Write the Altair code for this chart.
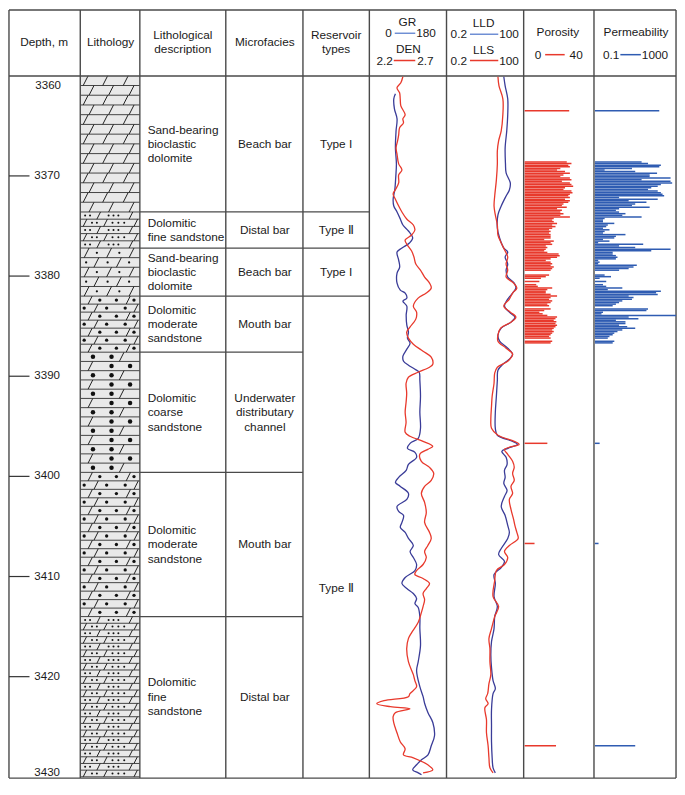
import altair as alt
import pandas as pd

# ---------------- data ----------------
depth_ticks = [3370, 3380, 3390, 3400, 3410, 3420]
depth_ends = [3360, 3430]

layer_top = [3360.0, 3373.6, 3377.2, 3382.0, 3387.6, 3399.6, 3414.0]
layer_base = [3373.6, 3377.2, 3382.0, 3387.6, 3399.6, 3414.0, 3430.0]
lith_kind = ["dolomite", "fine", "sandy_dolomite", "moderate", "coarse", "moderate", "fine"]
lith_desc = ["Sand-bearing\nbioclastic\ndolomite", "Dolomitic\nfine sandstone",
             "Sand-bearing\nbioclastic\ndolomite", "Dolomitic\nmoderate\nsandstone",
             "Dolomitic\ncoarse\nsandstone", "Dolomitic\nmoderate\nsandstone",
             "Dolomitic\nfine\nsandstone"]
microfacies = ["Beach bar", "Distal bar", "Beach bar", "Mouth bar",
               "Underwater\ndistributary\nchannel", "Mouth bar", "Distal bar"]
res_top = [3360.0, 3373.6, 3377.2, 3382.0]
res_base = [3373.6, 3377.2, 3382.0, 3430.0]
res_type = ["Type I", "Type Ⅱ", "Type I", "Type Ⅱ"]
res_label_depth = [3366.8, 3375.4, 3379.6, 3411.1]

gr_depth = [3361.8, 3362.3, 3363.3, 3364.3, 3365.5, 3367.2, 3368.8, 3370.1, 3371.4, 3372.3, 3373.0,
            3373.6, 3374.3, 3374.9, 3375.5, 3376.2, 3376.7, 3377.2, 3377.6, 3378.4, 3379.1, 3379.7,
            3380.7, 3381.4, 3381.7, 3382.2, 3382.5, 3383.0, 3383.9, 3384.9, 3385.6, 3386.2, 3386.7,
            3387.3, 3388.0, 3388.5, 3388.9, 3389.3, 3389.6, 3390.4, 3392.0, 3393.6, 3395.2, 3396.2,
            3396.7, 3397.2, 3397.6, 3398.1, 3398.8, 3399.4, 3400.1, 3400.6, 3401.0, 3401.7, 3402.3,
            3403.0, 3403.5, 3403.9, 3404.6, 3405.1, 3405.6, 3406.2, 3406.9, 3407.5, 3408.1, 3408.8,
            3409.4, 3410.1, 3410.7, 3411.2, 3411.7, 3412.2, 3412.7, 3413.1, 3414.0, 3415.2, 3416.9,
            3418.5, 3419.4, 3421.0, 3422.0, 3422.7, 3423.6, 3424.6, 3425.9, 3426.9, 3427.8, 3428.3,
            3428.8, 3429.3, 3429.6, 3429.8]
gr_value = [60.8, 57.0, 58.5, 64.6, 62.3, 60.8, 63.1, 61.6, 59.3, 55.5, 57.0,
            64.6, 72.2, 78.3, 91.2, 101.1, 93.5, 76.0, 64.6, 68.4, 70.7, 64.6,
            64.6, 72.2, 83.6, 87.4, 78.3, 87.4, 85.9, 87.4, 91.2, 88.9, 95.0,
            87.4, 78.3, 79.8, 91.2, 106.4, 116.3, 117.8, 119.3, 117.8, 119.3, 114.0,
            95.0, 88.9, 106.4, 110.2, 91.2, 85.9, 68.4, 60.8, 72.2, 91.2, 87.4,
            64.6, 68.4, 79.8, 76.0, 72.2, 83.6, 91.2, 102.6, 95.0, 102.6, 110.2,
            106.4, 83.6, 76.0, 87.4, 102.6, 110.2, 106.4, 114.0, 117.8, 117.8, 119.3,
            114.0, 110.2, 117.8, 125.4, 129.2, 136.8, 148.2, 152.0, 144.4, 136.8, 121.6,
            110.2, 101.1, 114.0, 121.6]

den_depth = [3360.1, 3360.7, 3361.2, 3361.7, 3362.3, 3363.0, 3363.9, 3364.3, 3364.7, 3365.2, 3365.9,
             3366.5, 3367.2, 3367.8, 3368.8, 3369.4, 3369.9, 3370.7, 3371.4, 3371.8, 3372.3, 3373.0,
             3373.6, 3374.3, 3374.9, 3375.4, 3375.9, 3376.4, 3376.8, 3377.5, 3378.1, 3378.8, 3379.4,
             3380.1, 3380.7, 3381.2, 3381.7, 3382.2, 3383.0, 3383.6, 3384.3, 3385.1, 3385.6, 3386.2,
             3386.8, 3387.5, 3388.1, 3388.8, 3389.1, 3389.6, 3390.1, 3390.7, 3391.7, 3392.6, 3393.6,
             3394.6, 3395.6, 3396.0, 3396.5, 3397.0, 3397.3, 3397.8, 3398.5, 3399.1, 3399.7, 3400.4,
             3401.0, 3401.7, 3402.6, 3403.6, 3404.6, 3405.6, 3406.2, 3406.9, 3407.5, 3408.1, 3408.8,
             3409.4, 3409.8, 3410.2, 3410.7, 3411.2, 3411.7, 3412.3, 3413.0, 3413.6, 3414.6, 3415.6,
             3416.2, 3417.2, 3418.5, 3419.8, 3420.4, 3421.0, 3421.7, 3422.0, 3422.4, 3422.7, 3423.0,
             3423.2, 3423.6, 3424.0, 3424.6, 3425.6, 3426.5, 3427.2, 3427.8, 3428.1, 3428.8, 3429.3,
             3429.6]
den_value = [2.417, 2.404, 2.379, 2.396, 2.400, 2.404, 2.432, 2.417, 2.421, 2.396, 2.390,
             2.383, 2.373, 2.379, 2.390, 2.411, 2.390, 2.390, 2.368, 2.354, 2.368, 2.390,
             2.411, 2.442, 2.485, 2.495, 2.474, 2.432, 2.442, 2.474, 2.489, 2.501, 2.531,
             2.558, 2.590, 2.601, 2.569, 2.516, 2.485, 2.506, 2.501, 2.463, 2.442, 2.453,
             2.485, 2.548, 2.601, 2.611, 2.590, 2.516, 2.453, 2.438, 2.442, 2.438, 2.432,
             2.438, 2.432, 2.463, 2.548, 2.611, 2.579, 2.527, 2.537, 2.590, 2.617, 2.601,
             2.558, 2.537, 2.558, 2.569, 2.558, 2.590, 2.601, 2.579, 2.558, 2.569, 2.548,
             2.506, 2.495, 2.548, 2.590, 2.569, 2.548, 2.558, 2.548, 2.537, 2.516, 2.474,
             2.453, 2.442, 2.453, 2.485, 2.495, 2.506, 2.463, 2.453, 2.295, 2.248, 2.337,
             2.463, 2.368, 2.354, 2.358, 2.379, 2.400, 2.432, 2.421, 2.485, 2.579, 2.611,
             2.548]

lld_depth = [3360.1, 3361.0, 3362.3, 3363.9, 3365.5, 3367.2, 3368.8, 3369.7, 3370.7, 3371.4, 3372.0,
             3373.0, 3373.9, 3375.2, 3376.2, 3377.2, 3377.6, 3378.1, 3378.8, 3379.4, 3380.1, 3380.7,
             3381.2, 3381.7, 3382.3, 3383.0, 3383.6, 3384.1, 3384.6, 3385.2, 3385.9, 3386.5, 3387.2,
             3387.8, 3388.3, 3388.8, 3389.4, 3390.4, 3392.0, 3393.6, 3395.2, 3395.9, 3396.5, 3396.8,
             3397.2, 3397.5, 3398.1, 3398.8, 3399.4, 3400.1, 3400.7, 3401.4, 3402.0, 3403.0, 3403.9,
             3404.9, 3405.6, 3406.2, 3407.2, 3407.8, 3408.5, 3409.1, 3409.8, 3410.7, 3412.0, 3413.0,
             3414.0, 3415.2, 3416.5, 3417.8, 3419.1, 3420.4, 3421.2, 3421.7, 3423.3, 3424.9, 3426.5,
             3428.1, 3429.1, 3429.6]
lld_value = [20.2, 22.5, 27.7, 27.7, 25.6, 22.5, 23.1, 24.3, 34.1, 31.6, 24.3,
             16.4, 12.6, 12.0, 14.4, 20.2, 27.7, 22.5, 27.7, 24.3, 27.7, 46.8,
             53.3, 41.0, 27.7, 21.3, 31.6, 49.3, 36.0, 16.4, 12.6, 14.4, 27.7,
             41.0, 31.6, 18.7, 12.6, 12.0, 11.1, 10.2, 10.2, 12.0, 41.0, 60.8,
             27.7, 17.2, 24.3, 26.3, 21.3, 22.5, 20.2, 26.3, 21.3, 16.4, 22.5,
             27.7, 31.6, 27.7, 16.4, 13.3, 21.3, 16.4, 9.2, 10.2, 9.2, 12.0,
             9.7, 9.2, 7.5, 7.1, 7.5, 8.5, 10.2, 8.5, 7.5, 7.5, 7.5,
             7.9, 8.5, 10.2]

lls_depth = [3360.1, 3361.0, 3362.3, 3363.9, 3365.5, 3366.5, 3367.5, 3368.8, 3370.4, 3372.0, 3373.0,
             3373.9, 3374.9, 3375.9, 3376.7, 3377.5, 3378.1, 3378.8, 3379.4, 3380.1, 3380.7, 3381.2,
             3381.7, 3382.3, 3383.0, 3383.6, 3384.1, 3384.6, 3385.2, 3385.9, 3386.5, 3387.2, 3387.8,
             3388.5, 3389.1, 3389.7, 3390.7, 3392.0, 3393.0, 3394.3, 3395.2, 3395.9, 3396.5, 3396.8,
             3397.3, 3397.8, 3398.5, 3399.1, 3399.7, 3400.4, 3401.0, 3401.7, 3402.3, 3403.3, 3404.3,
             3404.9, 3405.6, 3406.2, 3406.9, 3407.5, 3408.1, 3408.8, 3409.4, 3410.4, 3412.0, 3413.0,
             3414.0, 3415.2, 3416.2, 3417.2, 3418.5, 3419.8, 3420.7, 3421.7, 3422.2, 3422.7, 3423.1,
             3424.3, 3425.6, 3426.9, 3428.1, 3429.1, 3429.6]
lls_value = [12.6, 13.7, 18.7, 18.7, 16.4, 13.3, 12.0, 12.0, 11.1, 9.7, 9.2,
             10.2, 12.0, 12.6, 16.4, 22.5, 27.7, 24.3, 27.7, 24.3, 44.4, 57.7,
             41.0, 31.6, 20.2, 34.1, 53.3, 36.0, 15.6, 12.6, 12.6, 24.3, 41.0,
             27.7, 12.0, 9.7, 9.2, 7.9, 7.5, 7.1, 7.5, 12.6, 46.8, 69.3,
             21.3, 27.7, 41.0, 46.8, 41.0, 46.8, 36.0, 41.0, 31.6, 36.0, 44.4,
             49.3, 57.7, 64.1, 31.6, 21.3, 27.7, 21.3, 11.1, 9.7, 8.5, 13.3,
             9.7, 7.5, 6.1, 6.6, 6.6, 7.1, 6.1, 5.5, 4.7, 5.7, 4.4,
             5.0, 5.0, 5.7, 6.1, 6.6, 8.5]

core_depth = [3363.5,
              3368.61, 3368.77, 3368.93, 3369.09, 3369.25, 3369.41, 3369.57, 3369.74, 3369.90, 3370.06,
              3370.22, 3370.38, 3370.54, 3370.70, 3370.86, 3371.03, 3371.19, 3371.35, 3371.51, 3371.67,
              3371.83, 3371.99, 3372.15, 3372.32, 3372.48, 3372.64, 3372.80, 3372.96, 3373.12, 3373.28,
              3373.44, 3373.61, 3373.77, 3373.93, 3374.09, 3374.25, 3374.41, 3374.57, 3374.74, 3374.90,
              3375.06, 3375.22, 3375.38, 3375.54, 3375.70, 3375.86, 3376.03, 3376.19, 3376.35, 3376.51,
              3376.67, 3376.83, 3376.99, 3377.15, 3377.32, 3377.48, 3377.64, 3377.80, 3377.96, 3378.12,
              3378.28, 3378.44, 3378.61, 3378.77, 3378.93, 3379.09, 3379.25, 3379.41, 3379.90, 3380.06,
              3380.22, 3380.54, 3380.86, 3381.03, 3381.19, 3381.35, 3381.51, 3381.67, 3381.83, 3381.99,
              3382.15, 3382.32, 3382.48, 3382.64, 3382.80, 3382.96, 3383.28, 3383.44, 3383.61, 3383.77,
              3383.93, 3384.09, 3384.25, 3384.41, 3384.57, 3384.74, 3384.90, 3385.06, 3385.22, 3385.38,
              3385.54, 3385.70, 3385.86, 3386.03, 3386.19, 3386.51, 3386.67,
              3396.7, 3406.7, 3426.9]
porosity = [25.7,
            24.3, 27.0, 25.2, 26.1, 20.6, 18.7, 23.3, 26.1, 22.4, 20.6,
            26.1, 27.0, 21.5, 26.1, 27.0, 28.0, 23.3, 22.4, 27.0, 27.6,
            26.1, 25.2, 26.1, 23.3, 26.1, 25.2, 22.4, 21.5, 24.3, 18.7,
            21.5, 20.6, 22.4, 20.6, 26.1, 16.8, 15.9, 16.8, 18.7, 15.9,
            17.8, 15.9, 14.1, 15.0, 14.1, 15.0, 15.0, 15.0, 11.3, 16.8,
            15.0, 15.9, 12.2, 13.1, 12.2, 11.3, 13.1, 19.6, 20.2, 18.7,
            15.0, 12.2, 15.0, 15.9, 15.0, 16.8, 15.9, 15.0, 14.1, 12.2,
            9.4, 8.5, 6.7, 7.6, 15.9, 13.1, 12.2, 12.2, 15.0, 18.7,
            15.0, 14.1, 15.9, 15.0, 13.1, 14.1, 15.0, 11.3, 8.5, 10.4,
            13.1, 18.7, 17.8, 16.8, 18.3, 17.8, 18.7, 17.8, 16.8, 15.9,
            16.8, 15.9, 15.0, 14.1, 15.0, 15.9, 15.0,
            13.1, 5.7, 18.1]
permeability = [149,
                20.0, 41.6, 179, 150, 6.7, 0.30, 9.7, 116, 50, 50,
                538, 20, 538, 645, 179, 125, 60, 41.6, 125, 179,
                216, 259, 1.55, 125, 4.6, 34.7, 9.7, 6.7, 50, 1.55,
                1.08, 1.55, 3.2, 2.24, 20, 0.30, 0.25, 0.25, 0.90, 0.43,
                0.36, 0.25, 0.52, 0.30, 0.25, 3.2, 1.08, 0.90, 0.25, 0.52,
                0.144, 24, 1.55, 9.7, 538, 60, 0.75, 0.75, 1.08, 1.29,
                1.08, 0.144, 0.17, 0.144, 11.6, 8.0, 4.6, 1.55, 0.30, 0.62,
                0.17, 0.36, 0.25, 0.36, 2.24, 0.43, 179, 104, 125, 4.6,
                8.0, 6.7, 2.24, 1.55, 1.08, 0.75, 41.6, 34.7, 0.25, 0.21,
                1000, 4.6, 13.9, 1.08, 3.2, 3.2, 1.55, 3.9, 9.7, 2.24,
                1.29, 0.90, 0.75, 0.52, 0.43, 0.90, 0.75,
                0.17, 0.15, 9.7]

header_titles = ["Depth, m", "Lithology", "Lithological\ndescription", "Microfacies", "Reservoir\ntypes"]
track_titles = ["GR", "DEN", "LLD", "LLS", "Porosity", "Permeability"]

# ---------------- layout ----------------
W, H = 669, 773
SX, SY = W / 685.0, H / 795.0
FONT = "Liberation Sans"
FS = 11.8
LH = 14.3
TXT = "#1a1a1a"
LINE = "#4a4a4a"
BLUE = "#3a3c98"
RED = "#e8392c"
PBLUE = "#2f5cb2"
LBLUE = "#6f8fd4"


def X(p):
    return p * SX


def Y(p):
    return p * SY


yscale = alt.Scale(domain=[3360, 3430], range=[Y(69.7), Y(790.7)], zero=False, nice=False)
pxscale = alt.Scale(domain=[0, 685], range=[0, W], zero=False, nice=False)
one = pd.DataFrame({"k": [0]})
layers = []


def yd(f):
    return alt.Y(f"{f}:Q", scale=yscale, axis=None)


def xpx(f):
    return alt.X(f"{f}:Q", scale=pxscale, axis=None)


def htext(t, x, y, align="center", size=FS):
    n = t.count("\n") + 1
    return alt.Chart(one).mark_text(text=t, align=align, baseline="middle", fontSize=size, font=FONT,
                                    color=TXT, lineBreak="\n", lineHeight=LH,
                                    dy=-(n - 1) * LH / 2).encode(
        x=alt.value(X(x)), y=alt.value(Y(y)))


def hrule(x1, x2, y, color=LINE, w=1.3):
    return alt.Chart(one).mark_rule(color=color, strokeWidth=w).encode(
        x=alt.value(X(x1)), x2=alt.value(X(x2)), y=alt.value(Y(y)))


def block_text(mids, texts, x, align):
    out = []
    for n in (1, 2, 3):
        sel = [(m, t) for m, t in zip(mids, texts) if t.count("\n") + 1 == n]
        if not sel:
            continue
        df = pd.DataFrame(sel, columns=["m", "t"])
        out.append(alt.Chart(df).mark_text(
            align=align, baseline="middle", fontSize=FS, font=FONT, color=TXT, lineBreak="\n",
            lineHeight=LH, dy=-(n - 1) * LH / 2).encode(
            x=alt.value(X(x)), y=yd("m"), text="t:N"))
    return out


# lithology column background
layers.append(alt.Chart(pd.DataFrame({"t": [3360.0], "b": [3430.0]})).mark_rect(color="#e9e9e9").encode(
    x=alt.value(X(74)), x2=alt.value(X(135)), y=yd("t"), y2=alt.Y2("b")))

# lithology symbols
TEMPL = {
    "dolomite": {"h": 1.0, "slash": [[3, 23, 44], [9, 29, 50]], "dot": [[], []], "size": 0},
    "fine": {"h": 0.66, "slash": [[17, 50], [3, 24, 55]], "dot": [[5, 10, 29, 34, 39], [12, 17, 33, 39, 45]], "size": 4},
    "sandy_dolomite": {"h": 0.95, "slash": [[4, 27, 50], [14, 37]], "dot": [[17, 40], [6, 28, 50]], "size": 5},
    "moderate": {"h": 0.84, "slash": [[8, 47], [14, 55]], "dot": [[20, 37, 55], [4, 27, 46]], "size": 11},
    "coarse": {"h": 0.92, "slash": [[40], [8]], "dot": [[13, 32], [32, 51]], "size": 20},
}
row_lines, slashes, dots = [], [], []
for top, base, kind in zip(layer_top, layer_base, lith_kind):
    t = TEMPL[kind]
    n = max(1, round((base - top) / t["h"]))
    h = (base - top) / n
    for k in range(n):
        r0 = top + k * h
        r1 = r0 + h
        row_lines.append(r1)
        for off in t["slash"][k % 2]:
            slashes.append({"x": 74 + off, "x2": 74 + off + 5.2 * h, "y": r1, "y2": r0})
        for off in t["dot"][k % 2]:
            dots.append({"x": 74 + off, "y": (r0 + r1) / 2, "s": t["size"]})

layers.append(alt.Chart(pd.DataFrame({"d": row_lines})).mark_rule(color="#333", strokeWidth=0.9).encode(
    x=alt.value(X(74)), x2=alt.value(X(135)), y=yd("d")))
layers.append(alt.Chart(pd.DataFrame(slashes)).mark_rule(color="#222", strokeWidth=1.0).encode(
    x=xpx("x"), x2=alt.X2("x2"), y=yd("y"), y2=alt.Y2("y2")))
layers.append(alt.Chart(pd.DataFrame(dots)).mark_circle(color="#111", opacity=1).encode(
    x=xpx("x"), y=yd("y"), size=alt.Size("s:Q", scale=None, legend=None)))

# interval boundaries
layers.append(alt.Chart(pd.DataFrame({"d": layer_base[:-1]})).mark_rule(color=LINE, strokeWidth=1.3).encode(
    x=alt.value(X(135)), x2=alt.value(X(302)), y=yd("d")))
layers.append(alt.Chart(pd.DataFrame({"d": res_base[:-1]})).mark_rule(color=LINE, strokeWidth=1.3).encode(
    x=alt.value(X(302)), x2=alt.value(X(370)), y=yd("d")))

# grid frame
for cx in [1, 74, 135, 223, 302, 370, 449, 528, 600, 684]:
    layers.append(alt.Chart(one).mark_rule(color=LINE, strokeWidth=1.4).encode(
        x=alt.value(X(cx)), y=alt.value(Y(2)), y2=alt.value(Y(792))))
for hy in [2, 70, 792]:
    layers.append(hrule(1, 684, hy, LINE, 1.4))

# depth axis
layers.append(alt.Chart(pd.DataFrame({"d": depth_ticks})).mark_rule(color="#333", strokeWidth=1.2).encode(
    x=alt.value(X(1)), x2=alt.value(X(22)), y=yd("d")))
layers.append(alt.Chart(pd.DataFrame({"d": depth_ticks})).mark_text(
    align="left", baseline="middle", fontSize=11.5, font=FONT, color=TXT).encode(
    x=alt.value(X(27)), y=yd("d"), text=alt.Text("d:Q", format="d")))
layers.append(alt.Chart(pd.DataFrame({"d": depth_ends[:1]})).mark_text(
    align="left", baseline="top", dy=4, fontSize=11.5, font=FONT, color=TXT).encode(
    x=alt.value(X(28)), y=yd("d"), text=alt.Text("d:Q", format="d")))
layers.append(alt.Chart(pd.DataFrame({"d": depth_ends[1:]})).mark_text(
    align="left", baseline="bottom", dy=1, fontSize=11.5, font=FONT, color=TXT).encode(
    x=alt.value(X(27)), y=yd("d"), text=alt.Text("d:Q", format="d")))

# description / microfacies / reservoir text
mid = [(a + b) / 2 for a, b in zip(layer_top, layer_base)]
layers += block_text(mid, lith_desc, 143, "left")
layers += block_text(mid, microfacies, 263, "center")
layers += block_text(res_label_depth, res_type, 336, "center")

# log curves
def curve(depths, vals, color, scale):
    return alt.Chart(pd.DataFrame({"depth": depths, "v": vals})).mark_line(
        color=color, strokeWidth=1.3, interpolate="catmull-rom").encode(
        x=alt.X("v:Q", scale=scale, axis=None), y=yd("depth"), order=alt.Order("depth:Q"))


gr_scale = alt.Scale(domain=[0, 180], range=[X(370), X(449)], zero=False, nice=False)
den_scale = alt.Scale(domain=[2.2, 2.7], range=[X(370), X(449)], zero=False, nice=False)
rt_scale = alt.Scale(type="log", domain=[0.2, 100], range=[X(449), X(528)], nice=False)
layers.append(curve(gr_depth, gr_value, BLUE, gr_scale))
layers.append(curve(den_depth, den_value, RED, den_scale))
layers.append(curve(lld_depth, lld_value, BLUE, rt_scale))
layers.append(curve(lls_depth, lls_value, RED, rt_scale))

# core porosity / permeability
core = pd.DataFrame({"depth": core_depth, "phi": porosity, "k": permeability})
core["phi0"] = 0.0
core["k0"] = 0.1
layers.append(alt.Chart(core).mark_rule(color=RED, strokeWidth=1.5).encode(
    x=alt.X("phi0:Q", scale=alt.Scale(domain=[0, 40], range=[X(529), X(600)], zero=False, nice=False), axis=None),
    x2=alt.X2("phi"), y=yd("depth")))
layers.append(alt.Chart(core).mark_rule(color=PBLUE, strokeWidth=1.5).encode(
    x=alt.X("k0:Q", scale=alt.Scale(type="log", domain=[0.1, 1000], range=[X(601), X(684)], nice=False), axis=None),
    x2=alt.X2("k"), y=yd("depth")))

# header
layers.append(htext(header_titles[0], 37, 35))
layers.append(htext(header_titles[1], 105, 35))
layers.append(htext(header_titles[2], 179, 35))
layers.append(htext(header_titles[3], 263, 35))
layers.append(htext(header_titles[4], 336, 35))
# GR / DEN
layers.append(htext(track_titles[0], 409, 14))
layers.append(htext("0", 393, 26, "right"))
layers.append(hrule(396, 417, 26, LBLUE, 1.5))
layers.append(htext("180", 418, 26, "left"))
layers.append(htext(track_titles[1], 410, 42))
layers.append(htext("2.2", 394, 54, "right"))
layers.append(hrule(395, 417, 54, RED, 1.5))
layers.append(htext("2.7", 419, 54, "left"))
# LLD / LLS
layers.append(htext(track_titles[2], 487, 15))
layers.append(htext("0.2", 470, 27, "right"))
layers.append(hrule(473, 502, 27, LBLUE, 1.5))
layers.append(htext("100", 503, 27, "left"))
layers.append(htext(track_titles[3], 487, 43))
layers.append(htext("0.2", 470, 54, "right"))
layers.append(hrule(473, 502, 54, RED, 1.5))
layers.append(htext("100", 503, 54, "left"))
# Porosity / Permeability
layers.append(htext(track_titles[4], 563, 25))
layers.append(htext("0", 546, 48, "right"))
layers.append(hrule(550, 570, 48, RED, 1.5))
layers.append(htext("40", 575, 48, "left"))
layers.append(htext(track_titles[5], 643, 25))
layers.append(htext("0.1", 626, 48, "right"))
layers.append(hrule(627, 648, 48, PBLUE, 1.5))
layers.append(htext("1000", 649, 48, "left"))

chart = alt.layer(*layers).resolve_scale(x="independent").properties(
    width=W, height=H, padding=0, autosize="none"
).configure_view(stroke=None)

chart.save("out.html", embed_options={"renderer": "svg", "actions": False})
